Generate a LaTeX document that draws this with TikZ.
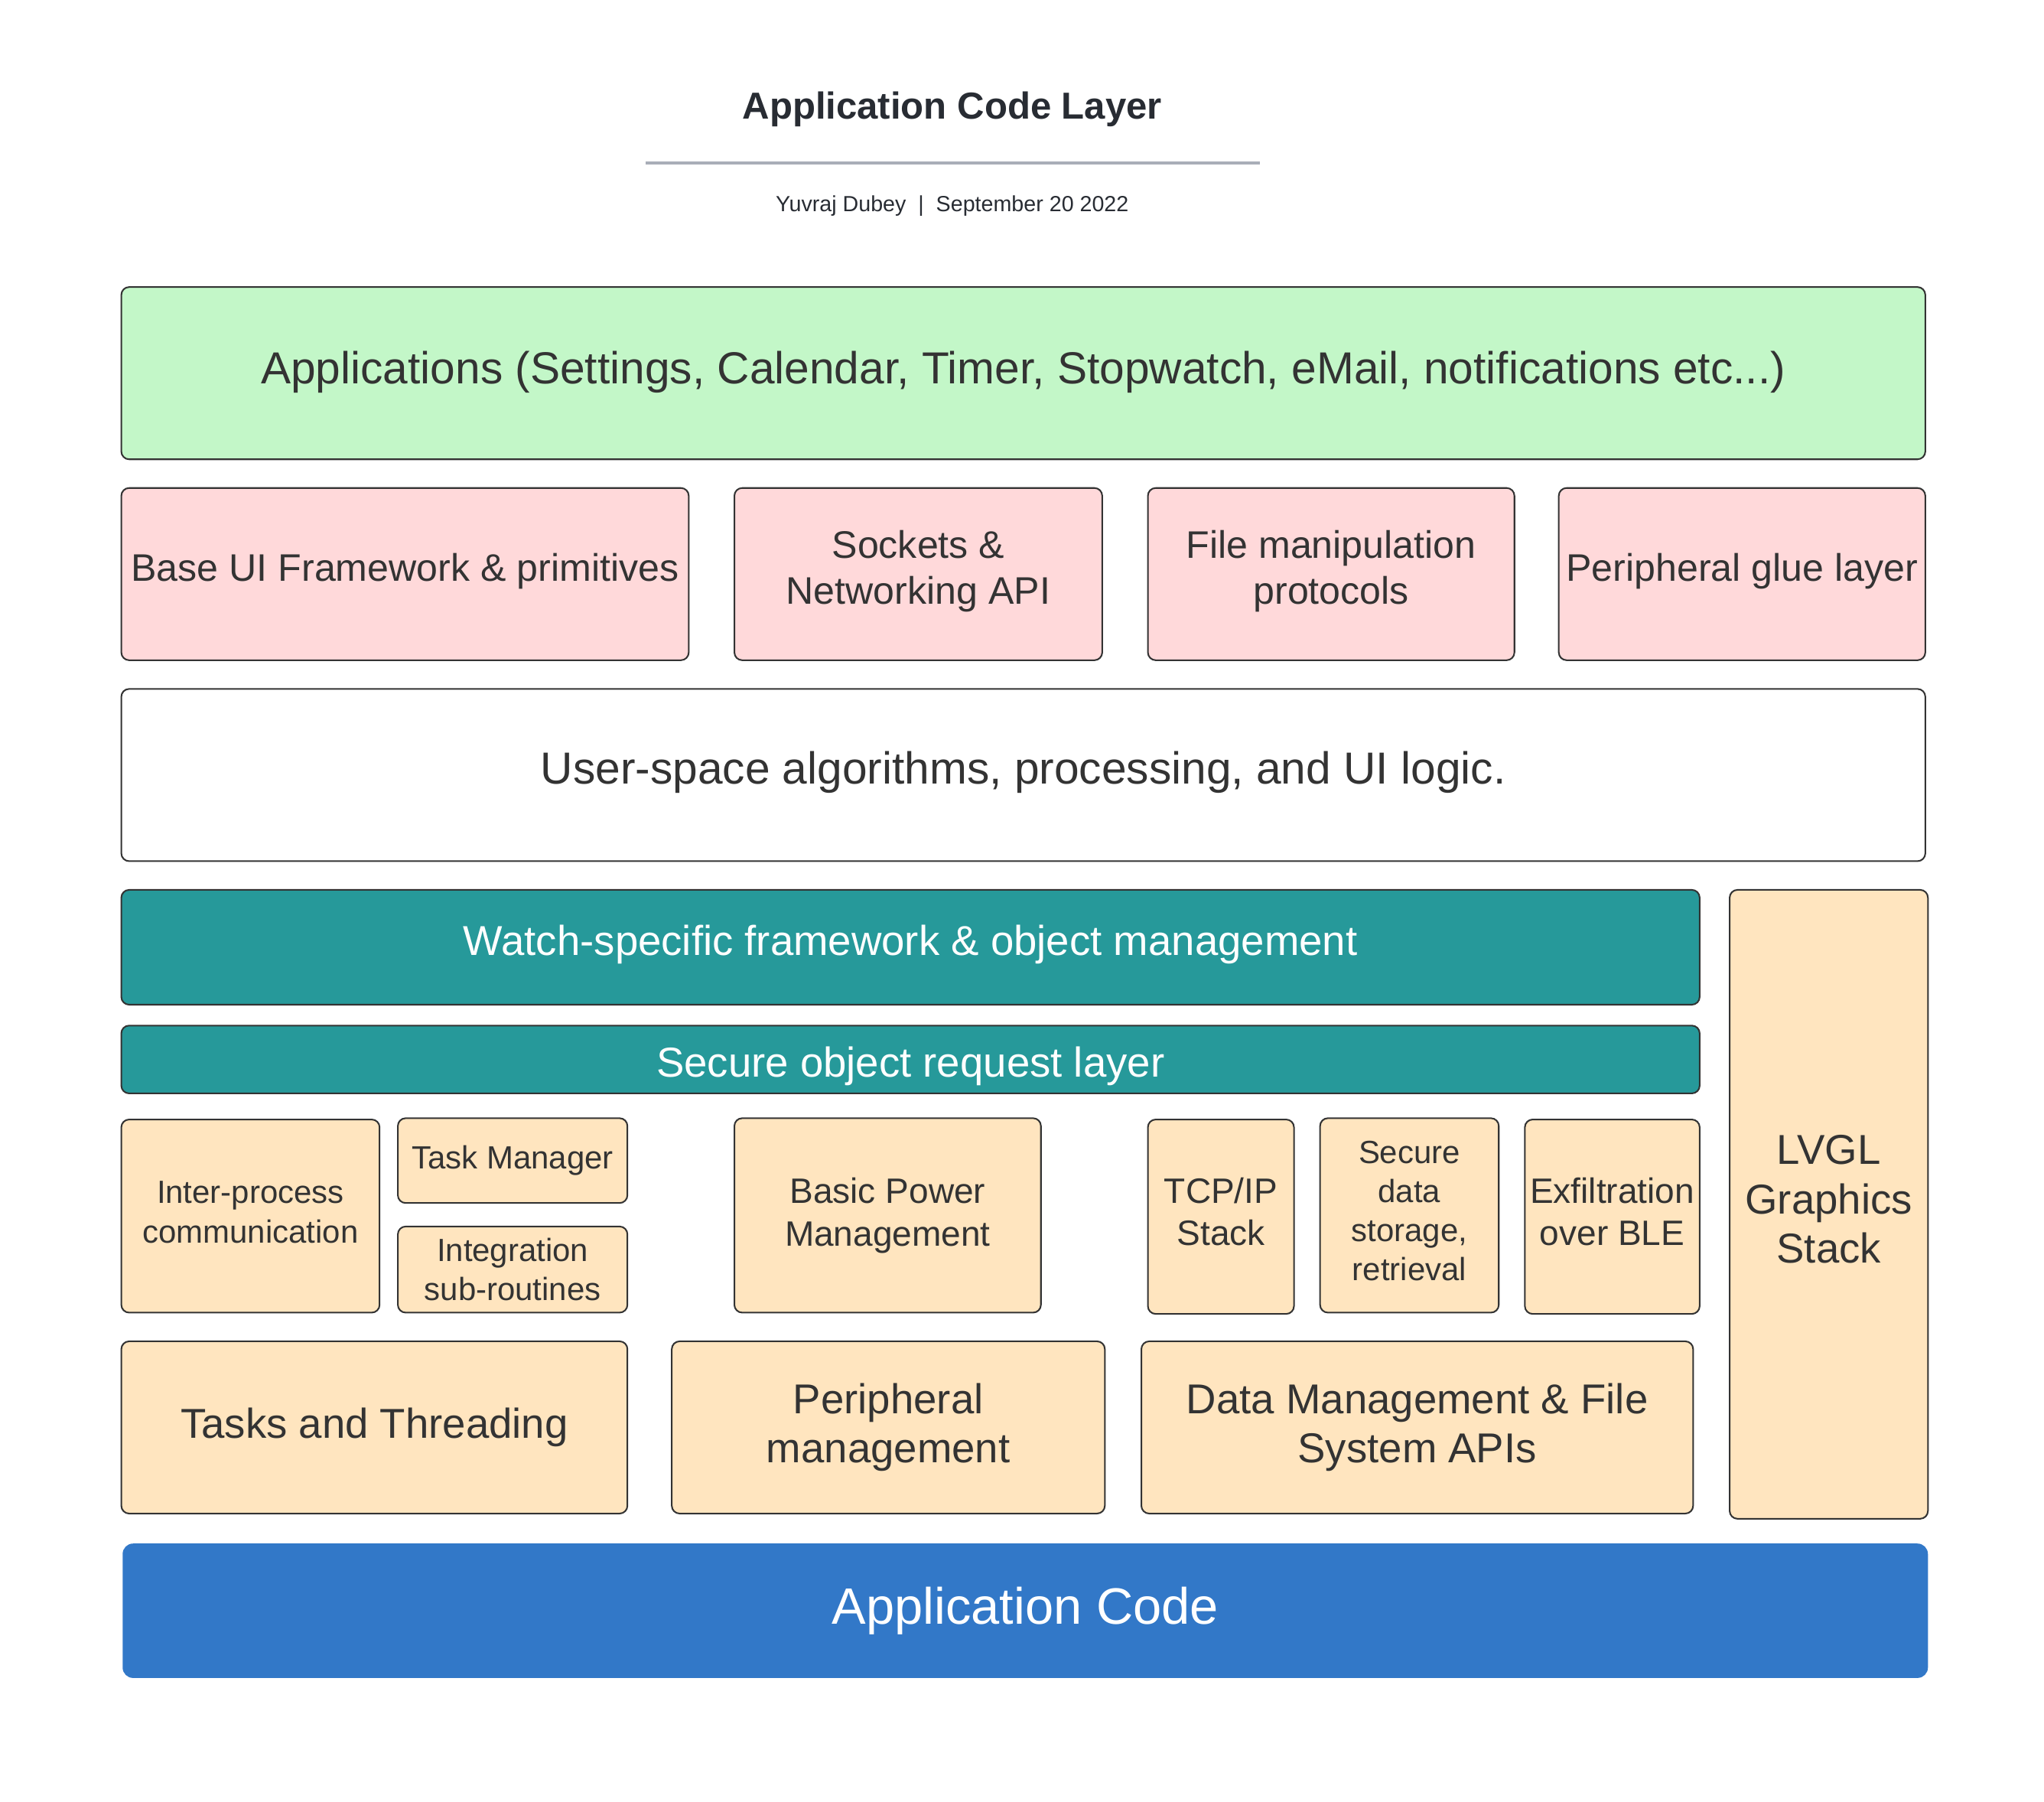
\documentclass[tikz,border=0pt]{standalone}
\usepackage{fontspec}
\setmainfont{Liberation Sans}
\definecolor{txt}{HTML}{333333}
\definecolor{ttl}{HTML}{282C33}
\definecolor{rule}{HTML}{A9AEB8}
\definecolor{edge}{HTML}{333333}
\definecolor{appgreen}{HTML}{C3F7C8}
\definecolor{pinkbox}{HTML}{FFD9DA}
\definecolor{tealbox}{HTML}{26999A}
\definecolor{beige}{HTML}{FFE5BF}
\definecolor{bluebox}{HTML}{3278C8}
\newcommand\liftby[1]{\rule[-#1]{0pt}{#1}}
\begin{document}
\begin{tikzpicture}[x=0.5pt,y=-0.5pt,
  box/.style={draw=edge, line width=0.6pt, rounded corners=3pt, inner sep=0pt, align=center, text=txt},
  fA/.style={font=\fontsize{17.2}{21}\selectfont},
  fP/.style={font=\fontsize{14.7}{17.5}\selectfont},
  fT/.style={font=\fontsize{16}{19}\selectfont},
  fS/.style={font=\fontsize{12.3}{15}\selectfont},
  fM/.style={font=\fontsize{13.5}{16.3}\selectfont},
  fB/.style={font=\fontsize{19.6}{23}\selectfont},
]
\useasboundingbox (0,0) rectangle (1567,1381);
% header
\node[text=ttl, font=\fontsize{14.4}{17}\selectfont\bfseries] (title) at (730,84) {Application Code Layer};
\coordinate (rl) at (495,125);
\coordinate (rr) at (966,125);
\draw[rule, line width=1pt] (rl) -- (rr);
\node[text=ttl, font=\fontsize{8.4}{10}\selectfont] (sub) at (730,158) {Yuvraj Dubey \ | \ September 20 2022};
% applications
\node[box, fA, fill=appgreen, minimum width=691.5pt, minimum height=66pt] (apps) at (784.5,286)
  {Applications (Settings, Calendar, Timer, Stopwatch, eMail, notifications etc...)\liftby{4.6pt}};
% pink row
\node[box, fP, fill=pinkbox, minimum width=217.5pt, minimum height=66pt] (baseui) at (310.5,440) {Base UI Framework \& primitives\liftby{5.1pt}};
\node[box, fP, fill=pinkbox, minimum width=141pt, minimum height=66pt] (sockets) at (704,440) {Sockets \&\\Networking API\liftby{5.1pt}};
\node[box, fP, fill=pinkbox, minimum width=140.5pt, minimum height=66pt] (files) at (1020.5,440) {File manipulation\\protocols\liftby{5.1pt}};
\node[box, fP, fill=pinkbox, minimum width=140.5pt, minimum height=66pt] (glue) at (1335.5,440) {Peripheral glue layer\liftby{5.1pt}};
% user-space
\node[box, fA, fill=white, minimum width=691.5pt, minimum height=66pt] (user) at (784.5,594) {User-space algorithms, processing, and UI logic.\liftby{5.6pt}};
% teal
\node[box, fT, fill=tealbox, text=white, minimum width=605pt, minimum height=44pt] (watch) at (698,726) {Watch-specific framework \& object management\liftby{5.4pt}};
\node[box, fT, fill=tealbox, text=white, minimum width=605pt, minimum height=26pt] (sorl) at (698,812) {\rule{0pt}{16.7pt}Secure object request layer};
% LVGL
\node[box, fT, fill=beige, minimum width=76pt, minimum height=241pt] (lvgl) at (1402,923) {LVGL\\Graphics\\Stack\liftby{4pt}};
% small row
\node[box, fS, fill=beige, minimum width=99pt, minimum height=74pt] (ipc) at (192,932) {Inter-process\\communication\liftby{3pt}};
\node[box, fS, fill=beige, minimum width=88pt, minimum height=32.5pt] (taskmgr) at (393,889.5) {Task Manager};
\node[box, fS, fill=beige, minimum width=88pt, minimum height=33pt] (integ) at (393,973) {Integration\\sub-routines};
\node[box, fM, fill=beige, minimum width=117.5pt, minimum height=74.5pt] (power) at (680.5,931.5) {Basic Power\\Management};
\node[box, fM, fill=beige, minimum width=56pt, minimum height=74.5pt] (tcp) at (936,932.5) {TCP/IP\\Stack\liftby{4pt}};
\node[box, fS, fill=beige, minimum width=68.5pt, minimum height=74.5pt] (sdata) at (1080.5,931.5) {Secure\\data\\storage,\\retrieval\liftby{3.5pt}};
\node[box, fM, fill=beige, minimum width=67pt, minimum height=74.5pt] (exfil) at (1236,932.5) {Exfiltration\\over BLE\liftby{4pt}};
% bottom row
\node[box, fT, fill=beige, minimum width=194pt, minimum height=66pt] (tasks) at (287,1094) {Tasks and Threading};
\node[box, fT, fill=beige, minimum width=166pt, minimum height=66pt] (periph) at (681,1094) {Peripheral\\management};
\node[box, fT, fill=beige, minimum width=211.5pt, minimum height=66pt] (data) at (1086.5,1094) {Data Management \& File\\System APIs};
% application code
\node[fill=bluebox, rounded corners=4pt, inner sep=0pt, text=white, fB, minimum width=692pt, minimum height=51.5pt] (appcode) at (786,1234.5) {Application Code};
\end{tikzpicture}
\end{document}
